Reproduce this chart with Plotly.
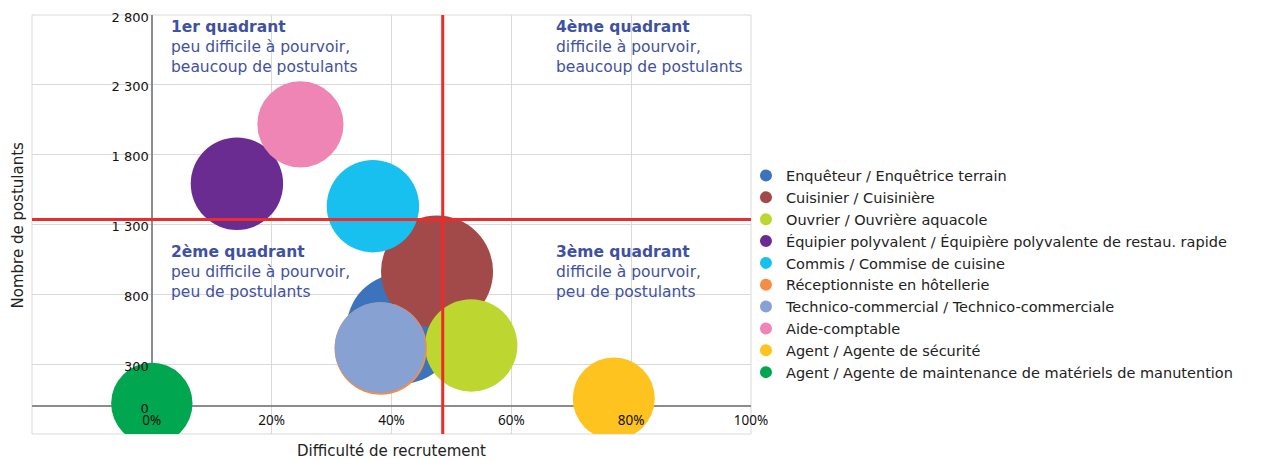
import plotly.graph_objects as go

# données
metiers = [
    "Enquêteur / Enquêtrice terrain",
    "Cuisinier / Cuisinière",
    "Ouvrier / Ouvrière aquacole",
    "Équipier polyvalent / Équipière polyvalente de restau. rapide",
    "Commis / Commise de cuisine",
    "Réceptionniste en hôtellerie",
    "Technico-commercial / Technico-commerciale",
    "Aide-comptable",
    "Agent / Agente de sécurité",
    "Agent / Agente de maintenance de matériels de manutention",
]
difficulte = [41.7, 47.6, 53.3, 14.2, 36.9, 38.2, 38.1, 24.8, 77.1, 0.0]
postulants = [555, 963, 434, 1592, 1431, 412, 418, 2017, 55, 19]
offres = [605, 625, 425, 425, 425, 425, 410, 370, 335, 330]
couleurs = ["#3b74bc", "#a24a4a", "#bed630", "#6a2c91", "#17c0ef",
            "#f58d47", "#87a1d3", "#ee85b5", "#fec31f", "#00a650"]

moy_difficulte = 48.55
moy_postulants = 1336

x_ticks = [0, 20, 40, 60, 80, 100]
x_labels = ["0%", "20%", "40%", "60%", "80%", "100%"]
y_ticks = [0, 300, 800, 1300, 1800, 2300, 2800]
y_labels = ["0", "300", "800", "1 300", "1 800", "2 300", "2 800"]

quadrants = [
    ("1er quadrant", "peu difficile à pourvoir,<br>beaucoup de postulants", 2.8, 2790),
    ("4ème quadrant", "difficile à pourvoir,<br>beaucoup de postulants", 67.2, 2790),
    ("2ème quadrant", "peu difficile à pourvoir,<br>peu de postulants", 2.8, 1180),
    ("3ème quadrant", "difficile à pourvoir,<br>peu de postulants", 67.2, 1180),
]

FONT = "DejaVu Sans"
TICK_FONT = "Noto Sans"
x_range = [-20, 100]
y_range = [-200, 2800]

sizeref = 2 * max(offres) / (112 ** 2)

fig = go.Figure()
for i in range(len(metiers)):
    fig.add_trace(go.Scatter(
        x=[difficulte[i]], y=[postulants[i]], name=metiers[i],
        mode="markers",
        marker=dict(size=[offres[i]], sizemode="area", sizeref=sizeref,
                    color=couleurs[i], opacity=1, line=dict(width=0)),
    ))

# droites des moyennes
fig.add_shape(type="line", xref="x", yref="y", x0=moy_difficulte, x1=moy_difficulte,
              y0=y_range[0], y1=y_range[1], line=dict(color="#ee2a2a", width=3))
fig.add_shape(type="line", xref="x", yref="y", x0=x_range[0], x1=x_range[1],
              y0=moy_postulants, y1=moy_postulants, line=dict(color="#ee2a2a", width=3))

# cadre
fig.add_shape(type="rect", xref="paper", yref="paper", x0=0, x1=1, y0=0, y1=1,
              line=dict(color="#d9d9d9", width=1), layer="below")

for titre, texte, qx, qy in quadrants:
    fig.add_annotation(x=qx, y=qy, xref="x", yref="y", xanchor="left", yanchor="top",
                       align="left", showarrow=False,
                       text=f"<b>{titre}</b><br>{texte}",
                       font=dict(family=FONT, size=15.5, color="#3f51a2"))

fig.add_annotation(x=0.5, y=-0.04, xref="paper", yref="paper", yanchor="middle",
                   showarrow=False, text="Difficulté de recrutement",
                   font=dict(family=FONT, size=15, color="#222"))
fig.add_annotation(x=-0.0195, y=0.5, xref="paper", yref="paper", xanchor="center",
                   textangle=-90, showarrow=False, text="Nombre de postulants",
                   font=dict(family=FONT, size=15, color="#222"))

fig.update_xaxes(range=x_range, anchor="free", automargin=False,
                 position=(0 - y_range[0]) / (y_range[1] - y_range[0]),
                 tickvals=x_ticks, ticktext=x_labels, ticklabelstandoff=4,
                 ticklabeloverflow="allow",
                 tickfont=dict(family=TICK_FONT, size=13.5, color="#111"),
                 showgrid=True, gridcolor="#d9d9d9", gridwidth=1,
                 zeroline=True, zerolinecolor="#8c8c8c", zerolinewidth=2,
                 showline=False, ticks="")
fig.update_yaxes(range=y_range, anchor="free", automargin=False,
                 position=(0 - x_range[0]) / (x_range[1] - x_range[0]),
                 tickvals=y_ticks, ticktext=y_labels, ticklabelstandoff=3,
                 ticklabeloverflow="allow", ticklabelshift=2,
                 tickfont=dict(family=FONT, size=13, color="#111"),
                 showgrid=True, gridcolor="#d9d9d9", gridwidth=1,
                 zeroline=True, zerolinecolor="#8c8c8c", zerolinewidth=2,
                 showline=False, ticks="")

# la page ajoute une marge de 8 px autour du graphique
fig.update_layout(
    width=1263, height=451,
    margin=dict(l=24, r=520, t=7, b=25, autoexpand=False),
    plot_bgcolor="white", paper_bgcolor="white",
    font=dict(family=FONT, color="#222"),
    legend=dict(x=0.993, y=0.655, xanchor="left", yanchor="top",
                itemsizing="constant", bgcolor="rgba(0,0,0,0)",
                font=dict(family=FONT, size=14.5, color="#222"),
                tracegroupgap=0),
    showlegend=True,
)

fig.write_html("out.html")
